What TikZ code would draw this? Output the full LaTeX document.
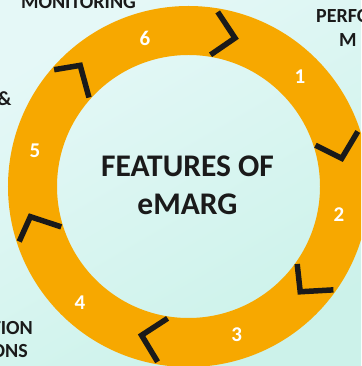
\documentclass[tikz,border=0pt]{standalone}
\usepackage{fontspec}
\setmainfont{Carlito}
\usepackage{xcolor}
\usepackage{tikz}
\usetikzlibrary{positioning}

\definecolor{ringorange}{RGB}{247,168,0}
\definecolor{bgtl}{RGB}{229,248,247}
\definecolor{bgbr}{RGB}{204,242,234}
\definecolor{darktext}{RGB}{26,26,26}

\begin{document}
\begin{tikzpicture}[x=1pt, y=1pt]
    % Styles
    \tikzstyle{num} = [text=white, font=\fontsize{21}{25}\selectfont\bfseries, inner sep=0pt]
    \tikzstyle{outlabel} = [text=darktext, font=\fontsize{20}{24}\selectfont\bfseries, inner sep=0pt]
    \tikzstyle{title} = [text=darktext, font=\fontsize{31.5}{37}\selectfont\bfseries, inner sep=0pt]
    \tikzstyle{chevron} = [draw=darktext, line width=5.5pt, line join=miter]

    % Background
    \useasboundingbox (-188.5,-179.5) rectangle (172.5,186.5);
    \clip (-188.5,-179.5) rectangle (172.5,186.5);
    \shade[top color=bgtl, bottom color=bgbr, shading angle=30]
        (-188.5,-179.5) rectangle (172.5,186.5);

    % Ring
    \fill[ringorange, even odd rule] (0,0) circle (180.5) (0,0) circle (131.5);

    % Separators
    \draw[chevron] (80.5:177) -- (72.6:155.6) -- (80.5:133.5);
    \draw[chevron] (18:178) -- (10.4:155.8) -- (18:133.5);
    \draw[chevron] (-35.5:178) -- (-43.3:153.5) -- (-35.5:133.5);
    \draw[chevron] (-100:178) -- (-107.5:156) -- (-99:133.5);
    \draw[chevron] (-162:178) -- (-169.2:161) -- (-162.4:133.5);
    \draw[chevron] (139:178) -- (131.8:162.5) -- (138.2:133.5);

    % Numbers
    \node[num] (n1) at (111.5,109.5) {1};
    \node[num] (n2) at (150.5,-28.5) {2};
    \node[num] (n3) at (48.2,-148.5) {3};
    \node[num] (n4) at (-108.5,-116.2) {4};
    \node[num] (n5) at (-153.5,35.8) {5};
    \node[num] (n6) at (-43.5,148.5) {6};

    % Centre
    \node[title, anchor=base] (title1) at (-1,9.8) {FEATURES OF};
    \node[title, anchor=base] (title2) at (-1,-28.5) {eMARG};

    % Outer labels
    \node[outlabel, anchor=base] (mon) at (-110,178) {MONITORING};
    \node[outlabel, anchor=base west] (perf) at (127.5,163.8) {PERFO};
    \node[outlabel, anchor=base west] (perfm) at (150.5,139.8) {M};
    \node[outlabel, anchor=base east] (amp) at (-176.8,80.5) {\&};
    \node[outlabel, anchor=base east] (tion) at (-155.5,-147.8) {TION};
    \node[outlabel, anchor=base east] (ons) at (-160.5,-171.2) {ONS};
\end{tikzpicture}
\end{document}
